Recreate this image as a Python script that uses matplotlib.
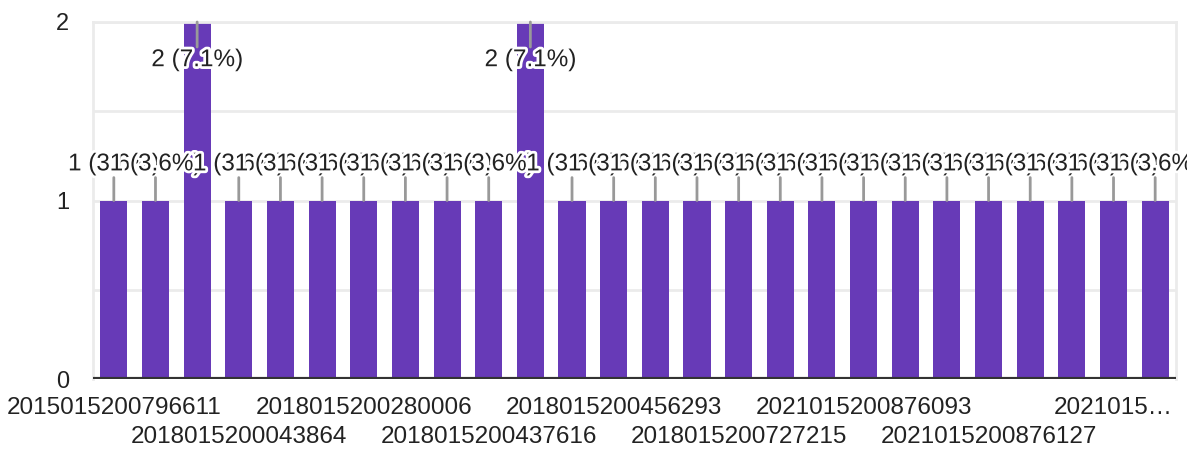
import matplotlib
matplotlib.use("Agg")
import matplotlib.pyplot as plt
import matplotlib.patheffects as pe
import numpy as np

plt.rcParams['font.family'] = ['Liberation Sans', 'DejaVu Sans']

ids = ["2015015200796611", "2015015200801452", "2018015200031275", "2018015200043864",
       "2018015200118730", "2018015200204519", "2018015200280006", "2018015200316482",
       "2018015200398127", "2018015200437616", "2018015200441058", "2018015200449371",
       "2018015200456293", "2018015200519846", "2018015200634170", "2018015200727215",
       "2018015200801963", "2021015200876011", "2021015200876093", "2021015200876104",
       "2021015200876115", "2021015200876127", "2021015200876138", "2021015200876142",
       "2021015200876156", "2021015200876169"]
counts = [1, 1, 2, 1, 1, 1, 1, 1, 1, 1, 2, 1, 1, 1, 1, 1, 1, 1, 1, 1, 1, 1, 1, 1, 1, 1]
shown = [0, 3, 6, 9, 12, 15, 18, 21, 24]
total = sum(counts)

bar_color = "#673ab7"
txt = "#222222"

fig = plt.figure(figsize=(11.87, 4.53), dpi=100)
ax = fig.add_axes([93/1187, 1 - 379/453, (1176-93)/1187, (379-22)/453])

x = np.arange(len(ids))
ax.bar(x, counts, width=0.65, color=bar_color, zorder=2)
ax.set_xlim(-0.5, len(ids) - 0.5)
ax.set_ylim(0, 2)

for yv in [0.5, 1, 1.5, 2]:
    ax.axhline(yv, color="#ebebeb", lw=2, zorder=0)
ax.axhline(0, color="#333333", lw=3, zorder=3)
for s in ["left", "right", "top"]:
    ax.spines[s].set_color("#ebebeb")
    ax.spines[s].set_linewidth(2)
ax.spines["bottom"].set_visible(False)

ax.set_yticks([0, 1, 2])
ax.set_yticklabels(["0", "1", "2"])
ax.tick_params(axis="y", length=0, pad=17, labelsize=17, labelcolor=txt)
ax.set_xticks([])

for k, i in enumerate(shown):
    lab = ids[i]
    if i == 24:
        lab = ids[i][:7] + "\u2026"
    off = -29 if k % 2 == 0 else -58
    ax.annotate(lab, xy=(i, 0), xycoords=("data", "axes fraction"),
                xytext=(0, off / 1.389), textcoords="offset points",
                ha="center", va="center", fontsize=17.5, color=txt)

halo = [pe.withStroke(linewidth=4, foreground="white")]
for i, c in enumerate(counts):
    lab = f"{c} ({c / total * 100:.1f}%)"
    if c >= 2:
        ln, tp = -18, -27.5
    else:
        ln, tp = 16.5, 26
    z = 4 + i
    ax.annotate("", xy=(i, c), xytext=(0, ln), textcoords="offset points",
                arrowprops=dict(arrowstyle="-", color="#999999", lw=2, shrinkA=0, shrinkB=0),
                zorder=z, annotation_clip=False)
    ax.annotate(lab, xy=(i, c), xytext=(0, tp), textcoords="offset points",
                ha="center", va="center", fontsize=17.5, color=txt,
                path_effects=halo, zorder=z + 0.5, annotation_clip=False)

fig.savefig("out.png", dpi=100)
